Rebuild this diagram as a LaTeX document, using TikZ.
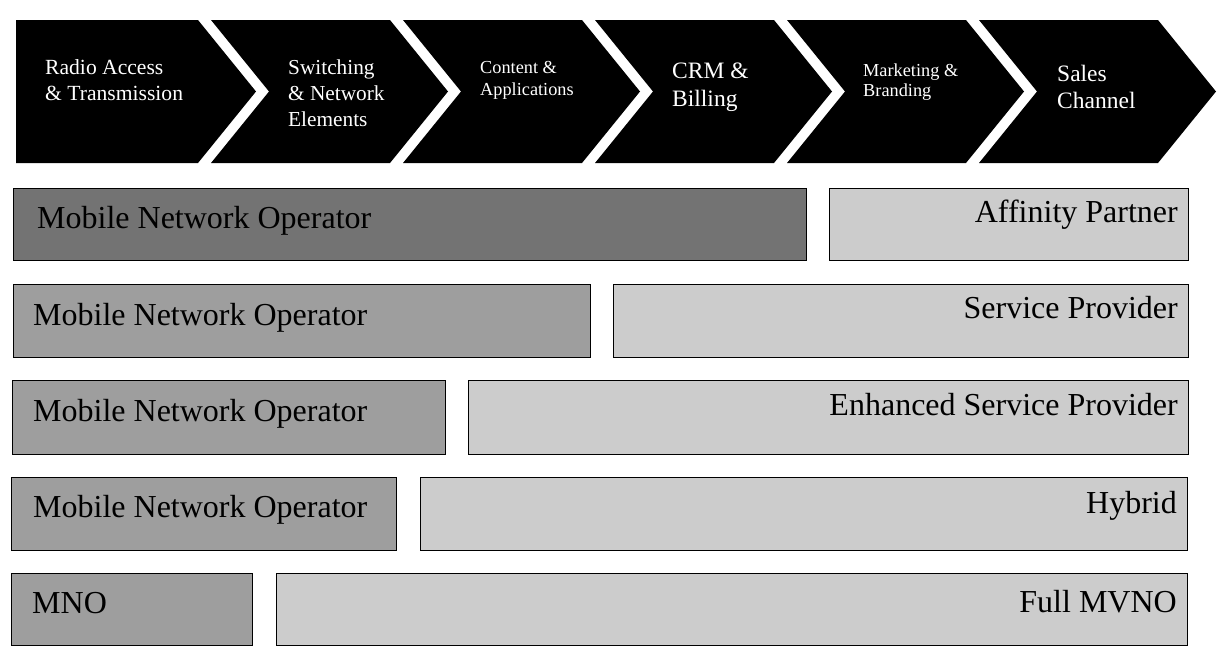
\documentclass[tikz,border=0pt]{standalone}
\usepackage{fontspec}
\setmainfont{Liberation Serif}
\definecolor{bardark}{gray}{0.45}
\definecolor{barmid}{gray}{0.62}
\definecolor{barlight}{gray}{0.80}
\begin{document}
\begin{tikzpicture}[x=1pt,y=-1pt,
  chev/.style={fill=black},
  chevtext/.style={text=white, inner sep=0pt, align=left, anchor=north west},
  bar/.style={draw=black, line width=1.3pt, inner sep=0pt, anchor=north west},
  mnobar/.style={bar, fill=barmid},
  mnodark/.style={bar, fill=bardark},
  partbar/.style={bar, fill=barlight},
  bartext/.style={inner sep=0pt, font=\fontsize{32}{37}\selectfont}
]
\useasboundingbox (0,0) rectangle (1218,657);
% chevrons
\fill[chev] (16,20) -- (198,20) -- (256,91.5) -- (198,163) -- (16,163) -- cycle;
\fill[chev] (211,20) -- (390,20) -- (448,91.5) -- (390,163) -- (211,163) -- (269,91.5) -- cycle;
\fill[chev] (403,20) -- (582,20) -- (640,91.5) -- (582,163) -- (403,163) -- (461,91.5) -- cycle;
\fill[chev] (595,20) -- (774,20) -- (832,91.5) -- (774,163) -- (595,163) -- (653,91.5) -- cycle;
\fill[chev] (787,20) -- (966,20) -- (1024,91.5) -- (966,163) -- (787,163) -- (845,91.5) -- cycle;
\fill[chev] (979,20) -- (1158,20) -- (1216,91.5) -- (1158,163) -- (979,163) -- (1037,91.5) -- cycle;
\node (c1) [chevtext, font=\fontsize{21.6}{26}\selectfont] at (45,59) {Radio Access\\\& Transmission};
\node (c2) [chevtext, font=\fontsize{21.3}{26}\selectfont] at (288,60) {Switching\\\& Network\\Elements};
\node (c3) [chevtext, font=\fontsize{18.3}{22}\selectfont] at (480,61) {Content \&\\Applications};
\node (c4) [chevtext, font=\fontsize{23.5}{28}\selectfont] at (672,63) {CRM \&\\Billing};
\node (c5) [chevtext, font=\fontsize{18.3}{20}\selectfont] at (863,64) {Marketing \&\\Branding};
\node (c6) [chevtext, font=\fontsize{23.5}{27}\selectfont] at (1057,65) {Sales\\Channel};
% row 1
\node (m1) [mnodark, minimum width=793pt, minimum height=72pt] at (13,188) {};
\node (p1) [partbar, minimum width=359pt, minimum height=72pt] at (829,188) {};
\node (tm1) [bartext, anchor=base west] at (37,228) {Mobile Network Operator};
\node (tp1) [bartext, anchor=base east] at (1178,222) {Affinity Partner};
% row 2
\node (m2) [mnobar, minimum width=577pt, minimum height=73pt] at (13,284) {};
\node (p2) [partbar, minimum width=575pt, minimum height=73pt] at (613,284) {};
\node (tm2) [bartext, anchor=base west] at (33,325) {Mobile Network Operator};
\node (tp2) [bartext, anchor=base east] at (1178,318) {Service Provider};
% row 3
\node (m3) [mnobar, minimum width=433pt, minimum height=74pt] at (12,380) {};
\node (p3) [partbar, minimum width=720pt, minimum height=74pt] at (468,380) {};
\node (tm3) [bartext, anchor=base west] at (33,421) {Mobile Network Operator};
\node (tp3) [bartext, anchor=base east] at (1178,415) {Enhanced Service Provider};
% row 4
\node (m4) [mnobar, minimum width=385pt, minimum height=73pt] at (11,477) {};
\node (p4) [partbar, minimum width=767pt, minimum height=73pt] at (420,477) {};
\node (tm4) [bartext, anchor=base west] at (33,517) {Mobile Network Operator};
\node (tp4) [bartext, anchor=base east] at (1177,513) {Hybrid};
% row 5
\node (m5) [mnobar, minimum width=241pt, minimum height=72pt] at (11,573) {};
\node (p5) [partbar, minimum width=911pt, minimum height=72pt] at (276,573) {};
\node (tm5) [bartext, anchor=base west] at (32,613) {MNO};
\node (tp5) [bartext, anchor=base east] at (1177,612) {Full MVNO};
\end{tikzpicture}
\end{document}
